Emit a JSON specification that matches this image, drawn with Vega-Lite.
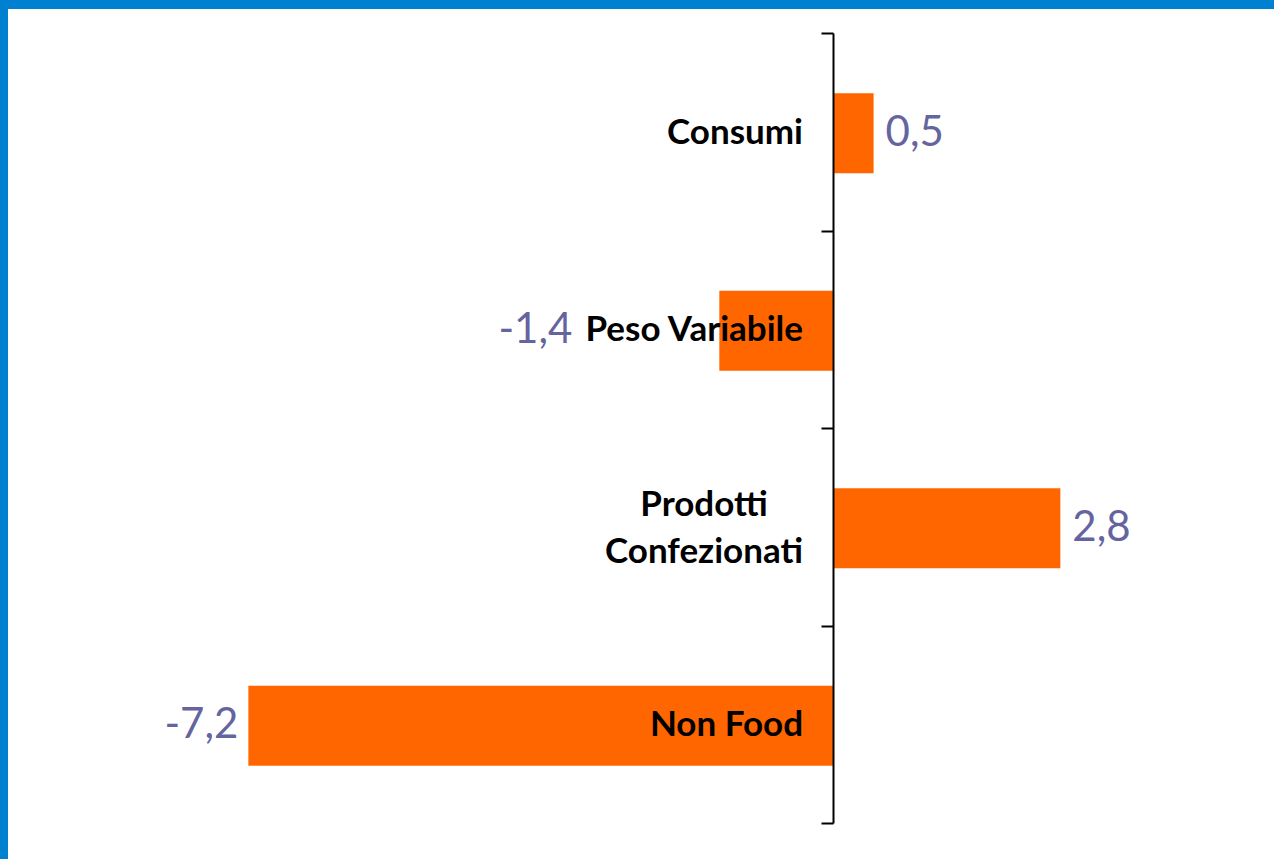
{
  "$schema": "https://vega.github.io/schema/vega-lite/v6.json",
  "autosize": {"type": "none"},
  "width": 1266,
  "height": 850,
  "padding": {"left": 8, "top": 9, "right": 0, "bottom": 0},
  "background": "#0080D0",
  "config": {
    "view": {"fill": "white", "stroke": null},
    "locale": {"number": {"decimal": ",", "thousands": ".", "grouping": [3], "currency": ["€", ""], "minus": "-"}}
  },
  "data": {
    "values": [
      {"cat": "Consumi", "label": "Consumi", "v": 0.5},
      {"cat": "Peso Variabile", "label": "Peso Variabile", "v": -1.4},
      {"cat": "Prodotti Confezionati", "label": "Prodotti\nConfezionati", "v": 2.8},
      {"cat": "Non Food", "label": "Non Food", "v": -7.2}
    ]
  },
  "encoding": {
    "y": {
      "field": "cat",
      "type": "nominal",
      "sort": null,
      "scale": {"range": [24, 814], "paddingInner": 0, "paddingOuter": 0},
      "axis": {
        "title": null,
        "offset": -825,
        "zindex": 2,
        "domainColor": "black",
        "domainWidth": 2,
        "tickColor": "black",
        "tickWidth": 2,
        "tickSize": 12,
        "tickBand": "extent",
        "labels": false
      }
    },
    "x": {
      "field": "v",
      "type": "quantitative",
      "scale": {"domain": [-10.16, 5.431], "nice": false, "zero": false},
      "axis": null
    }
  },
  "layer": [
    {"mark": {"type": "bar", "color": "#FF6600", "height": {"band": 0.405}, "yOffset": 1.5}},
    {
      "mark": {
        "type": "text",
        "font": "Lato",
        "fontSize": 42,
        "color": "#64649E",
        "baseline": "middle",
        "dy": 1,
        "align": {"expr": "datum.v < 0 ? 'right' : 'left'"},
        "dx": {"expr": "datum.v < 0 ? (datum.v > -2 ? -147 : -10) : 12"}
      },
      "encoding": {"text": {"field": "v", "type": "quantitative", "format": ".1f"}}
    },
    {
      "mark": {
        "type": "text",
        "font": "Lato",
        "fontWeight": "bold",
        "fontSize": 35,
        "color": "black",
        "baseline": "middle",
        "lineBreak": "\n",
        "lineHeight": 47,
        "align": {"expr": "datum.cat == 'Prodotti Confezionati' ? 'center' : 'right'"},
        "dx": {"expr": "datum.cat == 'Prodotti Confezionati' ? -129 : -30"},
        "dy": {"expr": "datum.cat == 'Prodotti Confezionati' ? -22 : 1"}
      },
      "encoding": {
        "x": {"datum": 0},
        "text": {"field": "label", "type": "nominal"}
      }
    }
  ]
}
